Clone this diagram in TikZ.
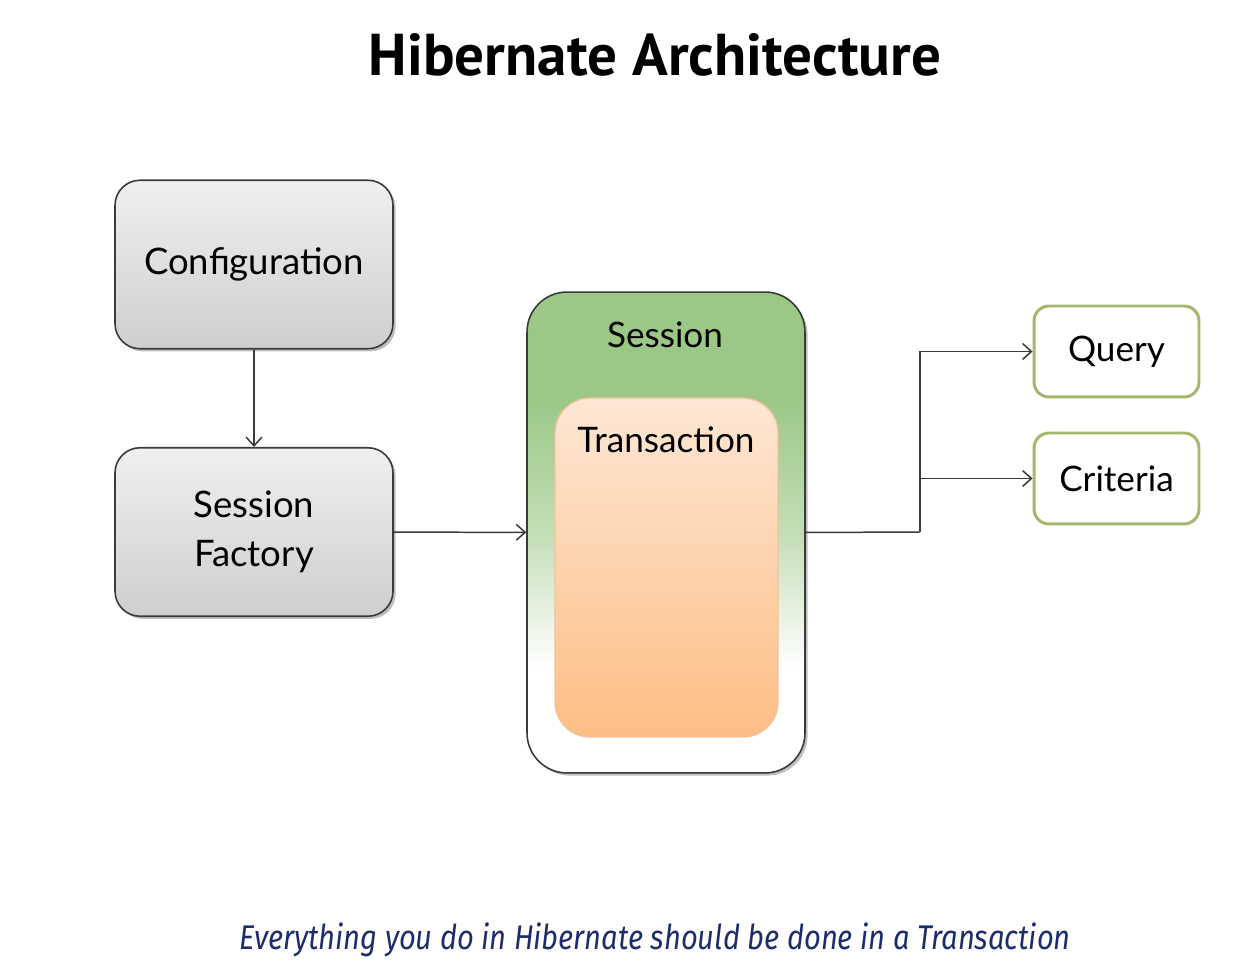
\documentclass[tikz,border=0pt]{standalone}
\usepackage{fontspec}
\setmainfont{Lato}
\newfontfamily\titlefont{PT Sans}
\newfontfamily\notefont[FakeStretch=0.85]{Fira Sans}
\usetikzlibrary{arrows.meta,shadows}

\definecolor{edgegray}{HTML}{3A3A3A}
\definecolor{sesgreen}{HTML}{9BC886}
\definecolor{transtop}{HTML}{FDE7D4}
\definecolor{transbot}{HTML}{FDBE84}
\definecolor{transedge}{HTML}{F3C29A}
\definecolor{outgreen}{HTML}{A3B86C}
\definecolor{notenavy}{HTML}{1E2C6B}

\pgfdeclareverticalshading{sessionshade}{100bp}{color(0bp)=(white); color(36bp)=(white); color(50bp)=(sesgreen!60); color(64bp)=(sesgreen); color(100bp)=(sesgreen)}

\begin{document}
\begin{tikzpicture}[x=0.02cm,y=-0.02cm,>={Straight Barb[length=5pt,width=9pt]},
	graybox/.style={draw=edgegray, line width=0.9pt, rounded corners=0.5cm,
		top color=gray!12, bottom color=gray!38, minimum width=5.56cm, minimum height=3.37cm,
		align=center, font=\fontsize{20.8}{28}\selectfont,
		drop shadow={shadow xshift=1.5pt, shadow yshift=-1.5pt, opacity=0.25, fill=black}},
	outbox/.style={draw=outgreen, line width=1.7pt, rounded corners=0.3cm, fill=white,
		minimum width=3.3cm, minimum height=1.82cm, font=\fontsize{20}{24}\selectfont},
	boxlabel/.style={font=\fontsize{20}{24}\selectfont, inner sep=0pt},
	link/.style={draw=edgegray, line width=0.85pt}]
			%%%	Help Lines
%			\draw [thin, help lines, step=100] (0,0) grid (1237,972);
			\fill[white] (0,0) rectangle (1237,972);
			\useasboundingbox (0,0) rectangle (1237,972);
			%%%	Titolo
			\node (title) at (655,55) {\titlefont\bfseries\fontsize{33.6}{40}\selectfont Hibernate Architecture};
			%%%	Scatole
			\node[graybox] (config) at (254,264.5) {Configuration};
			\node[graybox] (factory) at (254,532) {Session\\Factory};
			\node[draw=edgegray, line width=0.9pt, rounded corners=0.8cm, shading=sessionshade,
				minimum width=5.56cm, minimum height=9.62cm,
				drop shadow={shadow xshift=1.5pt, shadow yshift=-1.5pt, opacity=0.25, fill=black}] (session) at (666,532.5) {};
			\node[boxlabel] (seslabel) at (665,335) {Session};
			\node[draw=transedge, line width=0.8pt, rounded corners=0.7cm, top color=transtop, bottom color=transbot,
				minimum width=4.46cm, minimum height=6.78cm] (trans) at (666.5,567.5) {};
			\node[boxlabel] (translabel) at (666,440) {Transaction};
			\node[outbox] (query) at (1116.5,351.5) {Query};
			\node[outbox] (criteria) at (1116.5,478.5) {Criteria};
			\coordinate (split) at (920,532);
			%%%	Frecce
			\draw[link,->] (config) -- (factory);
			\draw[link,->] (factory) -- (session);
			\draw[link] (session.east) -- (split);
			\draw[link,->] (split) |- (query.west);
			\draw[link,->] (split) |- (criteria.west);
			%%%	Nota
			\node[text=notenavy] (note) at (655,940) {\notefont\itshape\fontsize{19.5}{24}\selectfont Everything you do in Hibernate should be done in a Transaction};
		\end{tikzpicture}
\end{document}
